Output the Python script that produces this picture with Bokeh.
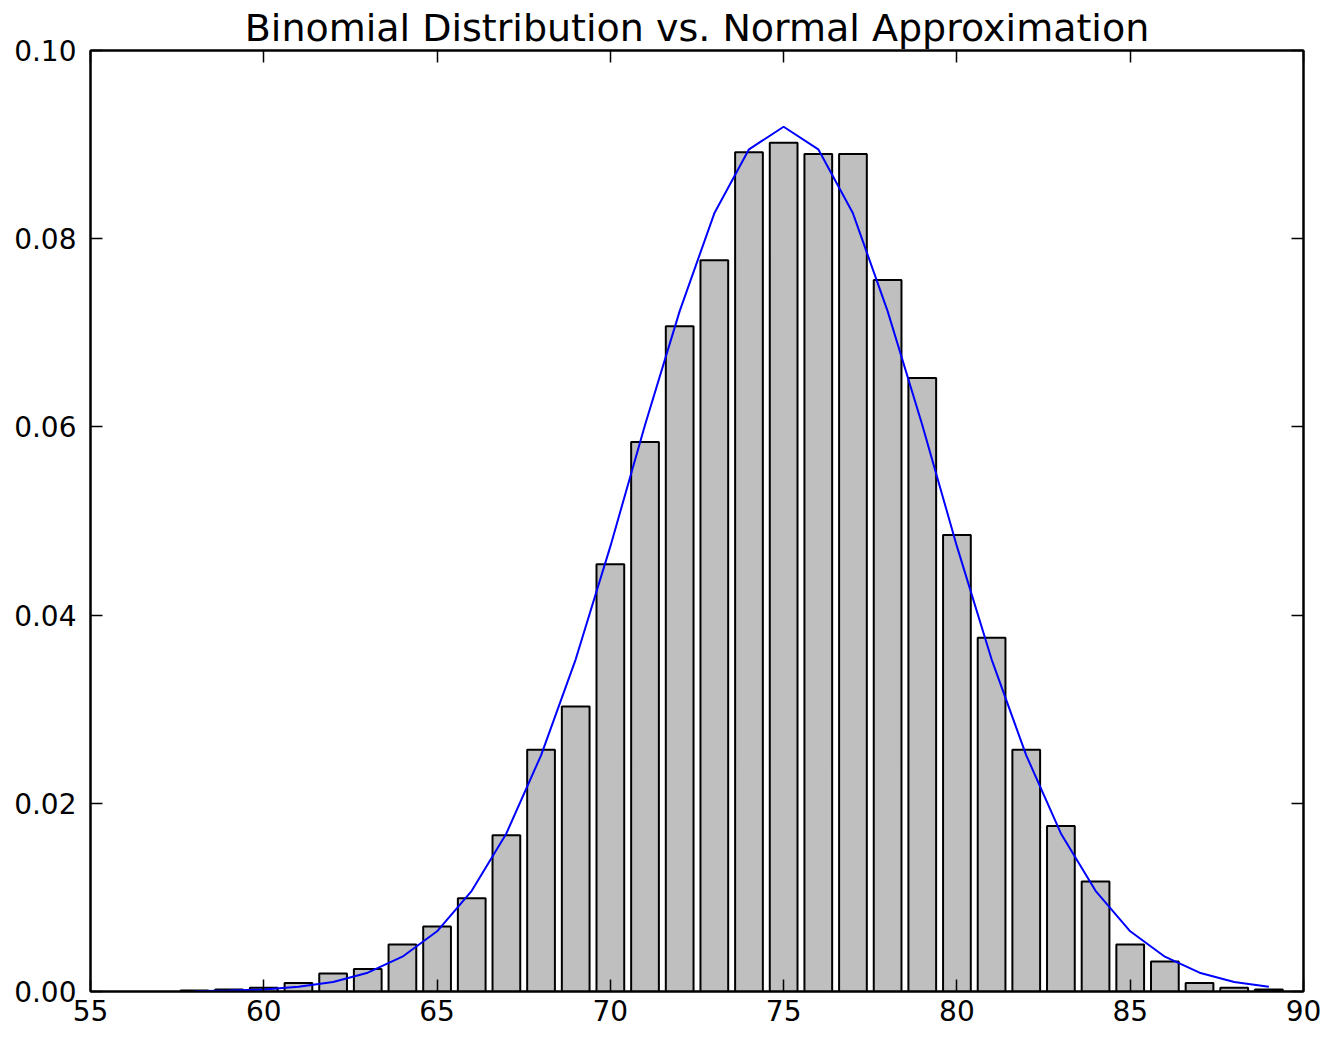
from bokeh.plotting import figure
from bokeh.models import Range1d, LinearAxis, FixedTicker, NumeralTickFormatter
from bokeh.embed import file_html
from bokeh.resources import INLINE

# Data
outcomes = list(range(58, 90))
frequencies = [0.0001, 0.0002, 0.0004, 0.0009, 0.0019, 0.0024, 0.0050, 0.0069,
               0.0099, 0.0166, 0.0257, 0.0303, 0.0454, 0.0584, 0.0707, 0.0777,
               0.0892, 0.0902, 0.0890, 0.0890, 0.0756, 0.0652, 0.0485, 0.0376,
               0.0257, 0.0176, 0.0117, 0.0050, 0.0032, 0.0009, 0.0004, 0.0002]
approx_x = list(range(58, 90))
approx_y = [0.00003, 0.0001, 0.0002, 0.0005, 0.0010, 0.0020, 0.0037, 0.0064,
            0.0107, 0.0168, 0.0251, 0.0353, 0.0473, 0.0602, 0.0723, 0.0827,
            0.0895, 0.0919, 0.0895, 0.0827, 0.0723, 0.0602, 0.0473, 0.0353,
            0.0251, 0.0168, 0.0107, 0.0064, 0.0037, 0.0020, 0.0010, 0.0005]
x_ticks = [55, 60, 65, 70, 75, 80, 85, 90]
y_ticks = [0.0, 0.02, 0.04, 0.06, 0.08, 0.10]
title_text = "Binomial Distribution vs. Normal Approximation"

FONT = "DejaVu Sans"

p = figure(width=1328, height=1031, output_backend="svg", toolbar_location=None,
           x_range=Range1d(55, 90), y_range=Range1d(0, 0.10),
           min_border_left=90, min_border_right=25, min_border_top=50, min_border_bottom=40,
           title=title_text)
p.title.align = "center"
p.title.text_font = FONT
p.title.text_font_size = "38px"
p.title.text_font_style = "normal"
p.title.text_color = "black"
p.title.standoff = 2

p.vbar(x=outcomes, top=frequencies, width=0.8, fill_color="#bfbfbf",
       line_color="black", line_width=2)
p.line(approx_x, approx_y, line_color="#0000ff", line_width=2)

p.grid.visible = False
p.outline_line_color = "black"
p.outline_line_width = 2
p.background_fill_color = "white"
p.border_fill_color = "white"

def style(ax, labels=True):
    ax.axis_line_color = "black"
    ax.axis_line_width = 2
    ax.major_tick_in = 12
    ax.major_tick_out = 0
    ax.major_tick_line_color = "black"
    ax.major_tick_line_width = 1.5
    ax.minor_tick_line_color = None
    ax.major_label_text_font = FONT
    ax.major_label_text_font_size = "28px"
    ax.major_label_text_color = "black"
    if not labels:
        ax.major_label_text_alpha = 0
        ax.major_label_text_font_size = "0px"
        ax.major_label_standoff = 0

xa = p.xaxis[0]
xa.ticker = FixedTicker(ticks=x_ticks)
style(xa)
xa.major_label_standoff = 8
ya = p.yaxis[0]
ya.ticker = FixedTicker(ticks=y_ticks)
ya.formatter = NumeralTickFormatter(format="0.00")
style(ya)
ya.major_label_standoff = 14

top_ax = LinearAxis(ticker=FixedTicker(ticks=x_ticks))
style(top_ax, labels=False)
p.add_layout(top_ax, "above")
right_ax = LinearAxis(ticker=FixedTicker(ticks=y_ticks))
style(right_ax, labels=False)
p.add_layout(right_ax, "right")

open("out.html", "w").write(file_html(p, INLINE))
